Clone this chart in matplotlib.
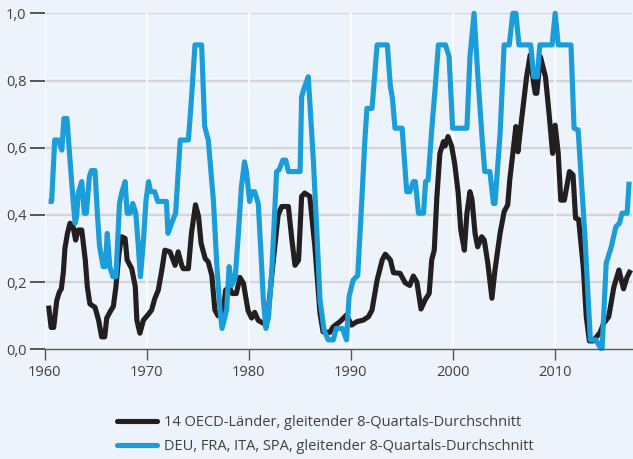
import matplotlib
matplotlib.use("Agg")
import matplotlib.pyplot as plt
from matplotlib.lines import Line2D

# 14 OECD countries, 8-quarter moving average
oecd_years = [1960.4, 1960.65, 1960.9, 1961.2, 1961.45, 1961.65, 1961.85, 1962.0, 1962.25, 1962.5,
              1962.8, 1963.05, 1963.3, 1963.65, 1964.0, 1964.2, 1964.45, 1964.95, 1965.3, 1965.6,
              1965.9, 1966.1, 1966.4, 1966.75, 1967.0, 1967.3, 1967.55, 1967.9, 1968.1, 1968.55,
              1968.9, 1969.05, 1969.35, 1969.7, 1970.2, 1970.5, 1970.8, 1971.15, 1971.5, 1971.8,
              1972.3, 1972.8, 1973.1, 1973.45, 1973.6, 1974.1, 1974.4, 1974.8, 1975.1, 1975.35,
              1975.75, 1976.05, 1976.4, 1976.7, 1977.0, 1977.5, 1977.75, 1978.1, 1978.4, 1978.8,
              1979.15, 1979.5, 1979.95, 1980.3, 1980.6, 1980.95, 1981.6, 1981.9, 1982.4, 1982.9,
              1983.25, 1983.9, 1984.25, 1984.55, 1984.9, 1985.2, 1985.5, 1986.0, 1986.5, 1987.0,
              1987.3, 1987.95, 1988.3, 1988.95, 1989.6, 1990.1, 1990.6, 1991.25, 1991.75, 1992.1,
              1992.6, 1993.1, 1993.4, 1993.9, 1994.2, 1994.85, 1995.35, 1995.8, 1996.15, 1996.5,
              1996.9, 1997.3, 1997.7, 1997.95, 1998.2, 1998.45, 1998.75, 1999.1, 1999.25, 1999.55,
              1999.9, 2000.2, 2000.55, 2000.8, 2001.15, 2001.4, 2001.7, 2001.9, 2002.2, 2002.45,
              2002.85, 2003.1, 2003.45, 2003.85, 2004.15, 2004.65, 2005.05, 2005.4, 2005.6, 2006.2,
              2006.4, 2006.75, 2007.25, 2007.6, 2007.95, 2008.1, 2008.25, 2008.6, 2009.1, 2009.45,
              2009.8, 2010.05, 2010.35, 2010.6, 2010.95, 2011.45, 2011.8, 2012.05, 2012.35, 2012.8,
              2013.1, 2013.4, 2013.8, 2014.1, 2014.45, 2014.8, 2015.3, 2015.8, 2016.3, 2016.75,
              2017.1, 2017.45]
oecd_values = [0.13, 0.065, 0.065, 0.145, 0.17, 0.18, 0.23, 0.30, 0.345, 0.375,
               0.365, 0.325, 0.355, 0.355, 0.265, 0.185, 0.135, 0.125, 0.087, 0.037,
               0.037, 0.093, 0.11, 0.128, 0.186, 0.285, 0.335, 0.33, 0.266, 0.24,
               0.186, 0.087, 0.048, 0.087, 0.105, 0.117, 0.15, 0.176, 0.236, 0.295,
               0.29, 0.25, 0.29, 0.25, 0.24, 0.24, 0.345, 0.43, 0.395, 0.315,
               0.27, 0.26, 0.22, 0.117, 0.10, 0.107, 0.176, 0.186, 0.166, 0.166,
               0.214, 0.196, 0.115, 0.093, 0.11, 0.086, 0.075, 0.105, 0.257, 0.40,
               0.425, 0.425, 0.325, 0.25, 0.265, 0.455, 0.465, 0.455, 0.305, 0.107,
               0.052, 0.05, 0.067, 0.082, 0.102, 0.072, 0.082, 0.087, 0.097, 0.117,
               0.206, 0.266, 0.283, 0.266, 0.228, 0.226, 0.198, 0.19, 0.218, 0.20,
               0.12, 0.147, 0.166, 0.266, 0.295, 0.45, 0.583, 0.618, 0.605, 0.633,
               0.605, 0.553, 0.464, 0.355, 0.295, 0.405, 0.469, 0.445, 0.345, 0.305,
               0.335, 0.325, 0.256, 0.152, 0.236, 0.345, 0.41, 0.43, 0.504, 0.663,
               0.588, 0.682, 0.811, 0.876, 0.79, 0.762, 0.762, 0.871, 0.811, 0.702,
               0.583, 0.667, 0.583, 0.444, 0.444, 0.529, 0.519, 0.39, 0.387, 0.246,
               0.097, 0.025, 0.025, 0.037, 0.05, 0.077, 0.097, 0.185, 0.236, 0.18,
               0.215, 0.236]

# DEU, FRA, ITA, SPA, 8-quarter moving average
euro4_years = [1960.4, 1960.7, 1961.0, 1961.35, 1961.7, 1961.9, 1962.2, 1962.5, 1962.8, 1963.0,
               1963.15, 1963.3, 1963.65, 1963.9, 1964.1, 1964.4, 1964.6, 1964.95, 1965.2, 1965.4,
               1965.75, 1965.95, 1966.15, 1966.4, 1966.7, 1967.0, 1967.35, 1967.55, 1967.9, 1968.1,
               1968.4, 1968.65, 1968.95, 1969.2, 1969.4, 1969.7, 1969.95, 1970.2, 1970.4, 1970.8,
               1971.1, 1971.95, 1972.1, 1972.45, 1972.85, 1973.05, 1973.3, 1974.1, 1974.35, 1974.75,
               1975.4, 1975.7, 1976.05, 1976.55, 1976.9, 1977.2, 1977.4, 1977.85, 1978.1, 1978.35,
               1978.7, 1979.0, 1979.3, 1979.6, 1979.8, 1980.1, 1980.3, 1980.6, 1980.95, 1981.2,
               1981.45, 1981.7, 1981.95, 1982.3, 1982.75, 1983.0, 1983.35, 1983.65, 1983.9, 1985.05,
               1985.2, 1985.5, 1985.85, 1986.35, 1986.7, 1987.0, 1987.4, 1987.8, 1988.3, 1988.6,
               1989.2, 1989.6, 1989.85, 1990.25, 1990.7, 1991.1, 1991.4, 1991.6, 1992.1, 1992.6,
               1993.6, 1993.9, 1994.1, 1994.35, 1995.05, 1995.5, 1995.8, 1996.15, 1996.35, 1996.65,
               1997.15, 1997.35, 1997.6, 1997.95, 1998.3, 1998.6, 1999.3, 1999.65, 2000.0, 2001.4,
               2001.7, 2002.1, 2002.5, 2002.9, 2003.15, 2003.65, 2004.0, 2004.15, 2004.65, 2005.05,
               2005.55, 2005.9, 2006.2, 2006.5, 2007.65, 2007.95, 2008.3, 2008.55, 2009.75, 2010.05,
               2010.35, 2011.6, 2011.9, 2012.3, 2012.95, 2013.5, 2014.05, 2014.5, 2014.65, 2015.05,
               2015.55, 2016.0, 2016.35, 2016.6, 2017.1, 2017.3]
euro4_values = [0.44, 0.44, 0.623, 0.623, 0.593, 0.687, 0.687, 0.563, 0.444, 0.375,
                0.395, 0.464, 0.499, 0.405, 0.405, 0.514, 0.532, 0.532, 0.395, 0.305,
                0.246, 0.246, 0.345, 0.246, 0.216, 0.216, 0.434, 0.464, 0.499, 0.405,
                0.405, 0.434, 0.405, 0.305, 0.216, 0.325, 0.444, 0.499, 0.469, 0.469,
                0.44, 0.44, 0.345, 0.375, 0.405, 0.504, 0.623, 0.623, 0.722, 0.906,
                0.906, 0.663, 0.623, 0.444, 0.246, 0.117, 0.062, 0.117, 0.246, 0.19,
                0.216, 0.345, 0.484, 0.558, 0.528, 0.44, 0.469, 0.469, 0.434, 0.295,
                0.147, 0.062, 0.095, 0.246, 0.529, 0.534, 0.563, 0.563, 0.529, 0.529,
                0.752, 0.782, 0.811, 0.563, 0.345, 0.147, 0.057, 0.028, 0.028, 0.062,
                0.062, 0.028, 0.157, 0.206, 0.22, 0.444, 0.623, 0.717, 0.717, 0.906,
                0.906, 0.782, 0.747, 0.658, 0.658, 0.469, 0.469, 0.499, 0.499, 0.405,
                0.405, 0.499, 0.504, 0.653, 0.782, 0.906, 0.906, 0.871, 0.658, 0.658,
                0.871, 1.0, 0.80, 0.623, 0.529, 0.529, 0.434, 0.434, 0.64, 0.906,
                0.906, 1.0, 1.0, 0.906, 0.906, 0.811, 0.811, 0.906, 0.906, 1.0,
                0.906, 0.906, 0.658, 0.653, 0.345, 0.028, 0.028, 0.003, 0.003, 0.256,
                0.305, 0.365, 0.375, 0.405, 0.405, 0.499]

x_ticks = [1960, 1970, 1980, 1990, 2000, 2010]
y_ticks = [0.0, 0.2, 0.4, 0.6, 0.8, 1.0]
y_tick_labels = ["0,0", "0,2", "0,4", "0,6", "0,8", "1,0"]
series_labels = ["14 OECD-Länder, gleitender 8-Quartals-Durchschnitt",
                 "DEU, FRA, ITA, SPA, gleitender 8-Quartals-Durchschnitt"]

BG = "#edf3fa"
BLACK = "#231f20"
BLUE = "#1b9dd9"
TEXT = "#404040"
AXIS = "#555555"

plt.rcParams["font.family"] = ["Open Sans", "DejaVu Sans"]

fig = plt.figure(figsize=(6.33, 4.59), dpi=100, facecolor=BG)
ax = fig.add_axes([44.5 / 633, 109.7 / 459, 587.5 / 633, 336.0 / 459], facecolor=BG)

ax.set_xlim(1960, 2017.58)
ax.set_ylim(0, 1.0)

# grid: grey horizontal lines, white vertical lines
for y in y_ticks[1:]:
    ax.axhline(y, color="#d3d5d8", lw=1.6, zorder=1)
for x in x_ticks:
    ax.axvline(x, color="white", lw=1.2, zorder=1)

ax.plot(oecd_years, oecd_values, color=BLACK, lw=3.7, zorder=3, clip_on=False,
        solid_joinstyle="round", solid_capstyle="butt")
ax.plot(euro4_years, euro4_values, color=BLUE, lw=3.7, zorder=4, clip_on=False,
        solid_joinstyle="round", solid_capstyle="butt")

for side in ["top", "right", "left"]:
    ax.spines[side].set_visible(False)
ax.spines["bottom"].set_color(AXIS)
ax.spines["bottom"].set_linewidth(1.0)
ax.spines["bottom"].set_zorder(5)

ax.set_xticks(x_ticks)
ax.set_xticklabels([str(v) for v in x_ticks])
ax.set_yticks(y_ticks)
ax.set_yticklabels(y_tick_labels)
ax.tick_params(axis="x", length=8, width=1.0, color=AXIS, labelsize=10.5,
               labelcolor=TEXT, pad=3)
ax.tick_params(axis="y", length=11, width=1.4, color=AXIS, labelsize=10.5,
               labelcolor=TEXT, pad=2)

handles = [Line2D([], [], color=BLACK, lw=3.7, solid_capstyle="round"),
           Line2D([], [], color=BLUE, lw=3.7, solid_capstyle="round")]
fig.legend(handles, series_labels, loc="upper left", bbox_to_anchor=(110 / 633, 1 - 408 / 459),
           frameon=False, fontsize=10.5, labelcolor=TEXT, handlelength=2.75,
           handletextpad=0.45, labelspacing=0.62, borderpad=0)

fig.savefig("out.png", dpi=100, facecolor=BG)
